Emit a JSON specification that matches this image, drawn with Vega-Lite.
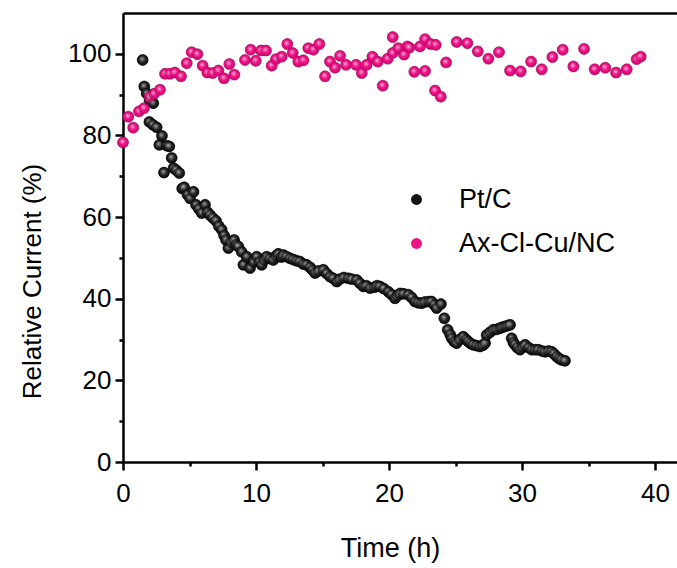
{
  "$schema": "https://vega.github.io/schema/vega-lite/v6.json",
  "autosize": "none",
  "width": 554,
  "height": 449,
  "padding": {"left": 123, "top": 13, "right": 0, "bottom": 106},
  "background": "white",
  "config": {
    "view": {"stroke": null},
    "font": "Liberation Sans",
    "axis": {"labelFont": "Liberation Sans", "titleFont": "Liberation Sans", "labelColor": "black", "titleColor": "black", "domainColor": "black", "tickColor": "black", "grid": false, "titleFontWeight": "normal"}
  },
  "data": {
    "values": [
      {"series": "Pt/C", "time": 1.48, "current": 98.5},
      {"series": "Pt/C", "time": 1.6, "current": 92.0},
      {"series": "Pt/C", "time": 1.78, "current": 90.3},
      {"series": "Pt/C", "time": 2.0, "current": 88.6},
      {"series": "Pt/C", "time": 2.28, "current": 87.9},
      {"series": "Pt/C", "time": 1.98, "current": 83.3},
      {"series": "Pt/C", "time": 2.25, "current": 82.6},
      {"series": "Pt/C", "time": 2.53, "current": 82.0},
      {"series": "Pt/C", "time": 2.73, "current": 77.7},
      {"series": "Pt/C", "time": 2.93, "current": 79.9},
      {"series": "Pt/C", "time": 3.08, "current": 70.9},
      {"series": "Pt/C", "time": 3.3, "current": 77.5},
      {"series": "Pt/C", "time": 3.48, "current": 77.3},
      {"series": "Pt/C", "time": 3.66, "current": 74.5},
      {"series": "Pt/C", "time": 3.8, "current": 72.0},
      {"series": "Pt/C", "time": 4.0, "current": 71.5},
      {"series": "Pt/C", "time": 4.23, "current": 70.8},
      {"series": "Pt/C", "time": 4.45, "current": 67.0},
      {"series": "Pt/C", "time": 4.6, "current": 67.3},
      {"series": "Pt/C", "time": 4.85, "current": 65.5},
      {"series": "Pt/C", "time": 5.04, "current": 64.6},
      {"series": "Pt/C", "time": 5.3, "current": 66.2},
      {"series": "Pt/C", "time": 5.49, "current": 63.0},
      {"series": "Pt/C", "time": 5.7, "current": 62.0},
      {"series": "Pt/C", "time": 5.92, "current": 61.0},
      {"series": "Pt/C", "time": 6.17, "current": 63.0},
      {"series": "Pt/C", "time": 6.35, "current": 61.2},
      {"series": "Pt/C", "time": 6.54, "current": 60.5},
      {"series": "Pt/C", "time": 6.75, "current": 59.8},
      {"series": "Pt/C", "time": 6.99, "current": 59.1},
      {"series": "Pt/C", "time": 7.2, "current": 57.8},
      {"series": "Pt/C", "time": 7.42, "current": 56.9},
      {"series": "Pt/C", "time": 7.6, "current": 55.5},
      {"series": "Pt/C", "time": 7.74, "current": 54.4},
      {"series": "Pt/C", "time": 7.92, "current": 52.4},
      {"series": "Pt/C", "time": 8.1, "current": 53.8},
      {"series": "Pt/C", "time": 8.35, "current": 54.4},
      {"series": "Pt/C", "time": 8.5, "current": 53.2},
      {"series": "Pt/C", "time": 8.67, "current": 52.8},
      {"series": "Pt/C", "time": 8.92, "current": 51.5},
      {"series": "Pt/C", "time": 9.05, "current": 48.3},
      {"series": "Pt/C", "time": 9.3, "current": 50.3},
      {"series": "Pt/C", "time": 9.55, "current": 47.5},
      {"series": "Pt/C", "time": 9.8, "current": 49.0},
      {"series": "Pt/C", "time": 10.05, "current": 50.3},
      {"series": "Pt/C", "time": 10.25, "current": 49.0},
      {"series": "Pt/C", "time": 10.43, "current": 48.3},
      {"series": "Pt/C", "time": 10.6, "current": 49.5},
      {"series": "Pt/C", "time": 10.8, "current": 50.3},
      {"series": "Pt/C", "time": 11.05, "current": 49.8},
      {"series": "Pt/C", "time": 11.3, "current": 49.5},
      {"series": "Pt/C", "time": 11.5, "current": 50.5},
      {"series": "Pt/C", "time": 11.68, "current": 51.0},
      {"series": "Pt/C", "time": 11.9, "current": 50.2},
      {"series": "Pt/C", "time": 12.05, "current": 50.7},
      {"series": "Pt/C", "time": 12.3, "current": 50.3},
      {"series": "Pt/C", "time": 12.56, "current": 49.9},
      {"series": "Pt/C", "time": 12.8, "current": 49.6},
      {"series": "Pt/C", "time": 13.05, "current": 49.3},
      {"series": "Pt/C", "time": 13.3, "current": 49.1},
      {"series": "Pt/C", "time": 13.55, "current": 48.5},
      {"series": "Pt/C", "time": 13.8, "current": 48.3},
      {"series": "Pt/C", "time": 14.06, "current": 47.7},
      {"series": "Pt/C", "time": 14.25, "current": 47.0},
      {"series": "Pt/C", "time": 14.44, "current": 46.3},
      {"series": "Pt/C", "time": 14.7, "current": 46.8},
      {"series": "Pt/C", "time": 15.06, "current": 47.1},
      {"series": "Pt/C", "time": 15.3, "current": 46.2},
      {"series": "Pt/C", "time": 15.56, "current": 45.4},
      {"series": "Pt/C", "time": 15.8, "current": 45.0},
      {"series": "Pt/C", "time": 16.07, "current": 44.2},
      {"series": "Pt/C", "time": 16.3, "current": 44.8},
      {"series": "Pt/C", "time": 16.6, "current": 45.2},
      {"series": "Pt/C", "time": 16.94, "current": 45.0},
      {"series": "Pt/C", "time": 17.2, "current": 44.8},
      {"series": "Pt/C", "time": 17.57, "current": 44.6},
      {"series": "Pt/C", "time": 17.8, "current": 43.8},
      {"series": "Pt/C", "time": 18.07, "current": 43.0},
      {"series": "Pt/C", "time": 18.3, "current": 43.2},
      {"series": "Pt/C", "time": 18.57, "current": 42.6},
      {"series": "Pt/C", "time": 18.9, "current": 42.8},
      {"series": "Pt/C", "time": 19.1, "current": 43.2},
      {"series": "Pt/C", "time": 19.32, "current": 43.0},
      {"series": "Pt/C", "time": 19.6, "current": 42.5},
      {"series": "Pt/C", "time": 19.95, "current": 41.7},
      {"series": "Pt/C", "time": 20.2, "current": 41.0},
      {"series": "Pt/C", "time": 20.45, "current": 40.1},
      {"series": "Pt/C", "time": 20.65, "current": 40.8},
      {"series": "Pt/C", "time": 20.83, "current": 41.3},
      {"series": "Pt/C", "time": 21.1, "current": 41.2},
      {"series": "Pt/C", "time": 21.45, "current": 41.0},
      {"series": "Pt/C", "time": 21.7, "current": 40.3},
      {"series": "Pt/C", "time": 21.95, "current": 39.3},
      {"series": "Pt/C", "time": 22.2, "current": 39.0},
      {"series": "Pt/C", "time": 22.46, "current": 38.9},
      {"series": "Pt/C", "time": 22.7, "current": 39.2},
      {"series": "Pt/C", "time": 23.0, "current": 39.3},
      {"series": "Pt/C", "time": 23.2, "current": 39.3},
      {"series": "Pt/C", "time": 23.4, "current": 38.5},
      {"series": "Pt/C", "time": 23.58, "current": 37.7},
      {"series": "Pt/C", "time": 23.9, "current": 38.7},
      {"series": "Pt/C", "time": 24.16, "current": 35.2},
      {"series": "Pt/C", "time": 24.41, "current": 32.4},
      {"series": "Pt/C", "time": 24.6, "current": 31.2},
      {"series": "Pt/C", "time": 24.71, "current": 30.3},
      {"series": "Pt/C", "time": 24.9, "current": 29.5},
      {"series": "Pt/C", "time": 25.08, "current": 29.1},
      {"series": "Pt/C", "time": 25.3, "current": 30.0},
      {"series": "Pt/C", "time": 25.58, "current": 30.7},
      {"series": "Pt/C", "time": 25.8, "current": 30.0},
      {"series": "Pt/C", "time": 25.96, "current": 29.5},
      {"series": "Pt/C", "time": 26.15, "current": 29.0},
      {"series": "Pt/C", "time": 26.34, "current": 28.7},
      {"series": "Pt/C", "time": 26.6, "current": 28.5},
      {"series": "Pt/C", "time": 26.84, "current": 28.3},
      {"series": "Pt/C", "time": 27.05, "current": 28.6},
      {"series": "Pt/C", "time": 27.22, "current": 29.1},
      {"series": "Pt/C", "time": 27.34, "current": 31.1},
      {"series": "Pt/C", "time": 27.6, "current": 31.8},
      {"series": "Pt/C", "time": 27.84, "current": 32.4},
      {"series": "Pt/C", "time": 28.1, "current": 32.5},
      {"series": "Pt/C", "time": 28.35, "current": 32.8},
      {"series": "Pt/C", "time": 28.5, "current": 33.0},
      {"series": "Pt/C", "time": 28.72, "current": 33.2},
      {"series": "Pt/C", "time": 28.9, "current": 33.4},
      {"series": "Pt/C", "time": 29.1, "current": 33.6},
      {"series": "Pt/C", "time": 29.22, "current": 30.3},
      {"series": "Pt/C", "time": 29.35, "current": 29.3},
      {"series": "Pt/C", "time": 29.47, "current": 28.7},
      {"series": "Pt/C", "time": 29.65, "current": 28.0},
      {"series": "Pt/C", "time": 29.85, "current": 27.5},
      {"series": "Pt/C", "time": 30.05, "current": 28.2},
      {"series": "Pt/C", "time": 30.23, "current": 28.7},
      {"series": "Pt/C", "time": 30.5, "current": 28.0},
      {"series": "Pt/C", "time": 30.73, "current": 27.5},
      {"series": "Pt/C", "time": 31.0, "current": 27.5},
      {"series": "Pt/C", "time": 31.23, "current": 27.5},
      {"series": "Pt/C", "time": 31.5, "current": 27.2},
      {"series": "Pt/C", "time": 31.73, "current": 27.0},
      {"series": "Pt/C", "time": 32.0, "current": 27.2},
      {"series": "Pt/C", "time": 32.23, "current": 27.0},
      {"series": "Pt/C", "time": 32.4, "current": 26.5},
      {"series": "Pt/C", "time": 32.61, "current": 25.8},
      {"series": "Pt/C", "time": 32.8, "current": 25.3},
      {"series": "Pt/C", "time": 32.98, "current": 25.0},
      {"series": "Pt/C", "time": 33.23, "current": 24.8},
      {"series": "Ax-Cl-Cu/NC", "time": 0.0, "current": 78.3},
      {"series": "Ax-Cl-Cu/NC", "time": 0.4, "current": 84.6},
      {"series": "Ax-Cl-Cu/NC", "time": 0.77, "current": 81.9},
      {"series": "Ax-Cl-Cu/NC", "time": 1.2, "current": 85.9},
      {"series": "Ax-Cl-Cu/NC", "time": 1.58, "current": 86.7},
      {"series": "Ax-Cl-Cu/NC", "time": 1.98, "current": 89.4},
      {"series": "Ax-Cl-Cu/NC", "time": 2.33, "current": 90.2},
      {"series": "Ax-Cl-Cu/NC", "time": 2.78, "current": 91.2},
      {"series": "Ax-Cl-Cu/NC", "time": 3.16, "current": 95.1},
      {"series": "Ax-Cl-Cu/NC", "time": 3.53, "current": 95.1},
      {"series": "Ax-Cl-Cu/NC", "time": 3.9, "current": 95.4},
      {"series": "Ax-Cl-Cu/NC", "time": 4.36, "current": 94.5},
      {"series": "Ax-Cl-Cu/NC", "time": 4.79, "current": 97.7},
      {"series": "Ax-Cl-Cu/NC", "time": 5.16, "current": 100.4},
      {"series": "Ax-Cl-Cu/NC", "time": 5.59, "current": 99.9},
      {"series": "Ax-Cl-Cu/NC", "time": 5.99, "current": 97.1},
      {"series": "Ax-Cl-Cu/NC", "time": 6.34, "current": 95.4},
      {"series": "Ax-Cl-Cu/NC", "time": 6.74, "current": 95.3},
      {"series": "Ax-Cl-Cu/NC", "time": 7.17, "current": 95.9},
      {"series": "Ax-Cl-Cu/NC", "time": 7.59, "current": 94.0},
      {"series": "Ax-Cl-Cu/NC", "time": 7.99, "current": 97.5},
      {"series": "Ax-Cl-Cu/NC", "time": 8.37, "current": 94.9},
      {"series": "Ax-Cl-Cu/NC", "time": 9.17, "current": 98.5},
      {"series": "Ax-Cl-Cu/NC", "time": 9.6, "current": 101.0},
      {"series": "Ax-Cl-Cu/NC", "time": 9.98, "current": 98.3},
      {"series": "Ax-Cl-Cu/NC", "time": 10.38, "current": 100.8},
      {"series": "Ax-Cl-Cu/NC", "time": 10.75, "current": 100.8},
      {"series": "Ax-Cl-Cu/NC", "time": 11.18, "current": 97.1},
      {"series": "Ax-Cl-Cu/NC", "time": 11.5, "current": 98.7},
      {"series": "Ax-Cl-Cu/NC", "time": 11.93, "current": 99.3},
      {"series": "Ax-Cl-Cu/NC", "time": 12.35, "current": 102.4},
      {"series": "Ax-Cl-Cu/NC", "time": 12.76, "current": 100.2},
      {"series": "Ax-Cl-Cu/NC", "time": 13.18, "current": 98.1},
      {"series": "Ax-Cl-Cu/NC", "time": 13.56, "current": 98.4},
      {"series": "Ax-Cl-Cu/NC", "time": 13.93, "current": 101.4},
      {"series": "Ax-Cl-Cu/NC", "time": 14.31, "current": 101.0},
      {"series": "Ax-Cl-Cu/NC", "time": 14.76, "current": 102.4},
      {"series": "Ax-Cl-Cu/NC", "time": 15.19, "current": 94.5},
      {"series": "Ax-Cl-Cu/NC", "time": 15.56, "current": 98.1},
      {"series": "Ax-Cl-Cu/NC", "time": 15.94, "current": 96.6},
      {"series": "Ax-Cl-Cu/NC", "time": 16.32, "current": 99.5},
      {"series": "Ax-Cl-Cu/NC", "time": 16.77, "current": 97.3},
      {"series": "Ax-Cl-Cu/NC", "time": 17.52, "current": 97.3},
      {"series": "Ax-Cl-Cu/NC", "time": 17.95, "current": 95.3},
      {"series": "Ax-Cl-Cu/NC", "time": 18.32, "current": 97.3},
      {"series": "Ax-Cl-Cu/NC", "time": 18.75, "current": 99.3},
      {"series": "Ax-Cl-Cu/NC", "time": 19.15, "current": 98.1},
      {"series": "Ax-Cl-Cu/NC", "time": 19.53, "current": 92.2},
      {"series": "Ax-Cl-Cu/NC", "time": 19.9, "current": 98.8},
      {"series": "Ax-Cl-Cu/NC", "time": 20.28, "current": 104.1},
      {"series": "Ax-Cl-Cu/NC", "time": 20.28, "current": 100.2},
      {"series": "Ax-Cl-Cu/NC", "time": 20.7, "current": 101.4},
      {"series": "Ax-Cl-Cu/NC", "time": 21.13, "current": 99.8},
      {"series": "Ax-Cl-Cu/NC", "time": 21.38, "current": 101.8},
      {"series": "Ax-Cl-Cu/NC", "time": 21.53, "current": 101.5},
      {"series": "Ax-Cl-Cu/NC", "time": 21.9, "current": 95.6},
      {"series": "Ax-Cl-Cu/NC", "time": 22.33, "current": 101.8},
      {"series": "Ax-Cl-Cu/NC", "time": 22.71, "current": 103.6},
      {"series": "Ax-Cl-Cu/NC", "time": 22.71, "current": 95.8},
      {"series": "Ax-Cl-Cu/NC", "time": 23.13, "current": 102.4},
      {"series": "Ax-Cl-Cu/NC", "time": 23.51, "current": 102.2},
      {"series": "Ax-Cl-Cu/NC", "time": 23.46, "current": 91.0},
      {"series": "Ax-Cl-Cu/NC", "time": 23.89, "current": 89.5},
      {"series": "Ax-Cl-Cu/NC", "time": 24.29, "current": 97.9},
      {"series": "Ax-Cl-Cu/NC", "time": 25.09, "current": 102.9},
      {"series": "Ax-Cl-Cu/NC", "time": 25.89, "current": 102.6},
      {"series": "Ax-Cl-Cu/NC", "time": 26.67, "current": 100.6},
      {"series": "Ax-Cl-Cu/NC", "time": 27.47, "current": 98.8},
      {"series": "Ax-Cl-Cu/NC", "time": 28.27, "current": 100.4},
      {"series": "Ax-Cl-Cu/NC", "time": 29.1, "current": 95.9},
      {"series": "Ax-Cl-Cu/NC", "time": 29.9, "current": 95.7},
      {"series": "Ax-Cl-Cu/NC", "time": 30.68, "current": 98.1},
      {"series": "Ax-Cl-Cu/NC", "time": 31.48, "current": 96.2},
      {"series": "Ax-Cl-Cu/NC", "time": 32.28, "current": 99.2},
      {"series": "Ax-Cl-Cu/NC", "time": 33.06, "current": 101.0},
      {"series": "Ax-Cl-Cu/NC", "time": 33.86, "current": 96.9},
      {"series": "Ax-Cl-Cu/NC", "time": 34.66, "current": 101.2},
      {"series": "Ax-Cl-Cu/NC", "time": 35.46, "current": 96.2},
      {"series": "Ax-Cl-Cu/NC", "time": 36.26, "current": 96.6},
      {"series": "Ax-Cl-Cu/NC", "time": 37.07, "current": 95.4},
      {"series": "Ax-Cl-Cu/NC", "time": 37.87, "current": 96.2},
      {"series": "Ax-Cl-Cu/NC", "time": 38.62, "current": 98.7},
      {"series": "Ax-Cl-Cu/NC", "time": 38.92, "current": 99.3}
    ]
  },
  "layer": [
    {
      "mark": {"type": "point", "filled": true, "size": 120, "opacity": 1, "stroke": "#000", "strokeWidth": 0.3},
      "encoding": {
        "x": {"field": "time", "type": "quantitative", "scale": {"domain": [0, 41.65], "nice": false, "zero": false},
          "axis": {"title": "Time (h)", "values": [0, 5, 10, 15, 20, 25, 30, 35, 40], "labelExpr": "datum.value % 10 === 0 ? datum.label : ''",
            "tickSize": {"condition": {"test": "datum.value % 10 !== 0", "value": 4}, "value": 8},
            "tickWidth": 2.5, "domainWidth": 2.5, "labelFontSize": 26, "labelPadding": 10, "titleFontSize": 27,
            "titleX": 267, "titleY": 86, "titleBaseline": "middle", "titleAlign": "center", "labelFlush": false}},
        "y": {"field": "current", "type": "quantitative", "scale": {"domain": [0, 110], "nice": false, "zero": false},
          "axis": {"title": "Relative Current (%)", "values": [0, 10, 20, 30, 40, 50, 60, 70, 80, 90, 100], "labelExpr": "datum.value % 20 === 0 ? datum.label : ''",
            "tickSize": {"condition": {"test": "datum.value % 20 !== 0", "value": 4}, "value": 8},
            "tickWidth": 2.5, "domainWidth": 2.5, "labelFontSize": 26, "labelPadding": 4, "titleFontSize": 26,
            "titleX": -91, "titleY": 268, "titleAngle": -90, "titleBaseline": "middle", "titleAlign": "center", "labelFlush": false}},
        "color": {"field": "series", "type": "nominal", "sort": null,
          "scale": {"domain": ["Pt/C", "Ax-Cl-Cu/NC"], "range": ["#111111", "#EC1485"]},
          "legend": {"title": null, "orient": "none", "legendX": 280, "legendY": 173, "labelFontSize": 27, "labelFont": "Liberation Sans",
            "symbolType": "circle", "symbolSize": 120, "labelOffset": 29, "rowPadding": 16, "symbolStrokeWidth": 0, "labelColor": "black"}}
      }
    },
    {
      "transform": [{"filter": "datum.series === 'Pt/C'"}],
      "mark": {"type": "point", "filled": true, "size": 120, "stroke": "#000", "strokeWidth": 0.4,
        "fill": {"gradient": "radial", "x1": 0.42, "y1": 0.38, "r1": 0, "x2": 0.5, "y2": 0.5, "r2": 0.55,
          "stops": [{"offset": 0, "color": "#f4f4f4"}, {"offset": 0.2, "color": "#9a9a9a"}, {"offset": 0.55, "color": "#2a2a2a"}, {"offset": 1, "color": "#000000"}]}},
      "encoding": {
        "x": {"field": "time", "type": "quantitative", "axis": null},
        "y": {"field": "current", "type": "quantitative"}
      }
    },
    {
      "transform": [{"filter": "datum.series === 'Ax-Cl-Cu/NC'"}],
      "mark": {"type": "point", "filled": true, "size": 120, "stroke": "#c8006a", "strokeWidth": 0.4,
        "fill": {"gradient": "radial", "x1": 0.42, "y1": 0.38, "r1": 0, "x2": 0.5, "y2": 0.5, "r2": 0.55,
          "stops": [{"offset": 0, "color": "#ffffff"}, {"offset": 0.2, "color": "#f7a0cc"}, {"offset": 0.5, "color": "#ee1287"}, {"offset": 1, "color": "#c4006a"}]}},
      "encoding": {
        "x": {"field": "time", "type": "quantitative", "axis": {"orient": "top", "labels": false, "ticks": false, "title": null, "domainWidth": 2.5, "domainColor": "black", "values": [0, 10, 20, 30, 40]}},
        "y": {"field": "current", "type": "quantitative"}
      }
    }
  ],
  "resolve": {"axis": {"x": "independent"}}
}
